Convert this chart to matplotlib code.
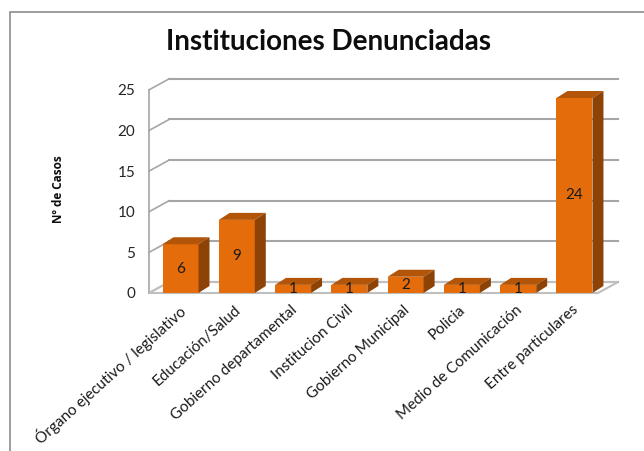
import numpy as np
import matplotlib.pyplot as plt
from matplotlib.patches import Polygon, Rectangle
from matplotlib.transforms import ScaledTranslation

plt.rcParams['font.family'] = ['Lato', 'DejaVu Sans']

categories = ["Órgano ejecutivo / legislativo", "Educación/Salud",
              "Gobierno departamental", "Institucion Civil",
              "Gobierno Municipal", "Policia", "Medio de Comunicación",
              "Entre particulares"]
casos = [6, 9, 1, 1, 2, 1, 1, 24]
yticks = [0, 5, 10, 15, 20, 25]

W, H = 644, 451
fig = plt.figure(figsize=(W / 100, H / 100), dpi=100)

# pixel geometry of the fake 3d box
px_cat = 56.28      # pixels per category
px_val = 8.125      # pixels per case
x0_px, y0_px = 180.5, 293.0   # first bar centre / zero line (pixels)
left_px, right_px, top_px, bot_px = 149, 622, 70, 300

ax = fig.add_axes([left_px / W, 1 - bot_px / H,
                   (right_px - left_px) / W, (bot_px - top_px) / H])
ax.set_xlim((left_px - x0_px) / px_cat, (right_px - x0_px) / px_cat)
ax.set_ylim((y0_px - bot_px) / px_val, (y0_px - top_px) / px_val)
for s in ax.spines.values():
    s.set_visible(False)

# depth offsets in data units
fdx, fdy = 20 / px_cat, 11 / px_val     # floor / walls
bdx, bdy = 11 / px_cat, 7 / px_val      # bars
xl = (left_px - x0_px) / px_cat
xr = (598 - x0_px) / px_cat
grid_c = '#a6a6a6'

# back wall grid lines + left wall slants
for v in yticks:
    ax.plot([xl + fdx, xr + fdx], [v + fdy, v + fdy], color=grid_c, lw=1.5,
            zorder=1, clip_on=False)
    ax.plot([xl, xl + fdx], [v, v + fdy], color=grid_c, lw=1.2,
            zorder=1, clip_on=False)
ax.plot([xl, xl], [0, 25], color=grid_c, lw=1.2, zorder=1, clip_on=False)
# floor
ax.add_patch(Polygon([[xl, 0], [xr, 0], [xr + fdx, fdy], [xl + fdx, fdy]],
                     closed=True, fill=False, ec='#bfbfbf', lw=1.5,
                     zorder=1, clip_on=False))

# bars
bw = 36 / px_cat
front_c, top_c, side_c = '#E46C0A', '#B25508', '#8E4306'
x = np.arange(len(categories))
ax.bar(x, casos, width=bw, color=front_c, zorder=3)
for xi, v in zip(x, casos):
    l, r = xi - bw / 2, xi + bw / 2
    ax.add_patch(Polygon([[l, v], [r, v], [r + bdx, v + bdy], [l + bdx, v + bdy]],
                         closed=True, fc=top_c, ec='none', zorder=3))
    ax.add_patch(Polygon([[r, 0], [r + bdx, bdy], [r + bdx, v + bdy], [r, v]],
                         closed=True, fc=side_c, ec='none', zorder=3))
    ax.text(xi, v / 2, str(v), ha='center', va='center', fontsize=11,
            color='#1a1a1a', zorder=4)

ax.set_yticks(yticks)
ax.set_yticklabels([str(t) for t in yticks], fontsize=11, color='#262626')
ax.tick_params(axis='y', length=0, pad=10)
ax.set_xticks(x)
ax.set_xticklabels(categories, rotation=42, ha='right', va='top',
                   rotation_mode='anchor', fontsize=11, color='#1a1a1a')
ax.tick_params(axis='x', length=0, pad=2)
off = ScaledTranslation(-3 / 100, 0, fig.dpi_scale_trans)
for lab in ax.get_xticklabels():
    lab.set_transform(lab.get_transform() + off)

fig.text(328 / W, 1 - 42 / H, "Instituciones Denunciadas", ha='center',
         va='center', fontsize=20, fontweight='bold', color='#0d0d0d')
fig.text(58 / W, 1 - 189 / H, "Nº de Casos", ha='center', va='center',
         rotation=90, fontsize=8.5, fontweight='bold', color='#0d0d0d',
         family=['Open Sans', 'DejaVu Sans'])

# chart border (cut by the screenshot on the right and bottom)
fig.patches.append(Rectangle((10 / W, -0.05), 1.1, 1 - 12 / H + 0.05,
                             transform=fig.transFigure, fill=False,
                             ec='#8c8c8c', lw=1.2))

fig.savefig('out.png', dpi=100)
